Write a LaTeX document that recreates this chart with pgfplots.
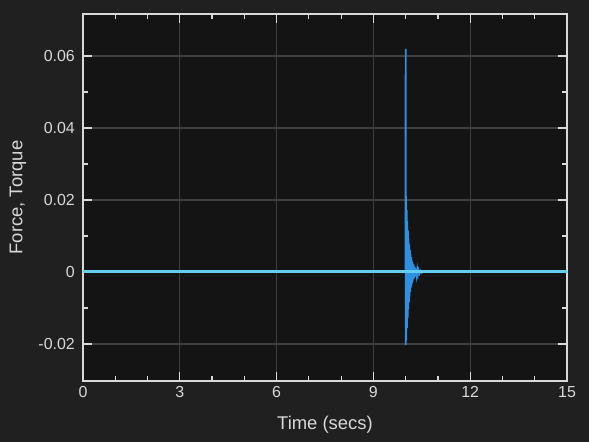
\documentclass[border=0pt]{standalone}
\usepackage{fontspec}
\setmainfont{Liberation Sans}
\usepackage{pgfplots}
\pgfplotsset{compat=1.18}
\definecolor{outerbg}{HTML}{202020}
\definecolor{innerbg}{HTML}{141414}
\definecolor{gridc}{HTML}{3E3E3E}
\definecolor{axc}{HTML}{D9D9D9}
\definecolor{txt}{HTML}{D8D8D8}
\definecolor{sig}{HTML}{2F8FE0}
\definecolor{zer}{HTML}{62CFF0}
\begin{document}
\begin{tikzpicture}
\fill[outerbg] (-83bp,-61bp) rectangle (506bp,381bp);
\begin{axis}[
  scale only axis, width=484bp, height=367bp,
  at={(0,0)}, anchor=south west,
  xmin=0, xmax=15, ymin=-0.0303, ymax=0.0717,
  scaled y ticks=false, scaled x ticks=false,
  axis background/.style={fill=innerbg},
  axis line style={axc, line width=1.5bp},
  xtick={0,3,6,9,12,15}, xticklabels={0,3,6,9,12,15},
  ytick={-0.02,0,0.02,0.04,0.06}, yticklabels={-0.02,0,0.02,0.04,0.06},
  minor x tick num=2, minor y tick num=1,
  tick align=inside, major tick length=9bp, minor tick length=5bp,
  every tick/.style={axc, line width=1.2bp},
  grid=major, major grid style={gridc, line width=1.2bp},
  ticklabel style={font=\fontsize{16}{18}\selectfont, text=txt, inner sep=0pt},
  xticklabel style={anchor=north, yshift=-5bp},
  yticklabel style={anchor=east, xshift=-8bp},
  xlabel={Time (secs)}, ylabel={Force, Torque},
  label style={font=\fontsize{18.5}{20}\selectfont, text=txt, inner sep=0pt},
  xlabel style={at={(axis description cs:0.5,0)}, anchor=north, yshift=-35bp},
  ylabel style={at={(axis description cs:0,0.5)}, anchor=center, yshift=65bp},
]
\addplot[sig, line width=1.8bp] coordinates {
(0,0) (9.995,0) (10.000,0.062) (10.005,-0.0203) (10.010,0.0210) (10.020,-0.0190)
(10.030,0.0172) (10.040,-0.0156) (10.050,0.0141) (10.060,-0.0127) (10.070,0.0115)
(10.080,-0.0103) (10.090,0.0093) (10.100,-0.0084) (10.110,0.0076) (10.120,-0.0068)
(10.130,0.0061) (10.140,-0.0055) (10.150,0.0050) (10.160,-0.0045) (10.170,0.0041)
(10.180,-0.0037) (10.190,0.0033) (10.200,-0.0030) (10.210,0.0027) (10.220,-0.0024)
(10.230,0.0022) (10.240,-0.0020) (10.250,0.0018) (10.260,-0.0016) (10.270,0.0014)
(10.280,-0.0013) (10.290,0.0012) (10.300,-0.0011) (10.320,0.0009) (10.340,-0.0008)
(10.360,0.0007) (10.380,-0.0006) (10.400,0.0005) (10.430,-0.0004) (10.460,0.0003)
(10.500,-0.0002) (10.550,0) (15,0)
};
\addplot[zer, line width=3bp] coordinates {(0,0) (15,0)};
\end{axis}
\end{tikzpicture}
\end{document}
